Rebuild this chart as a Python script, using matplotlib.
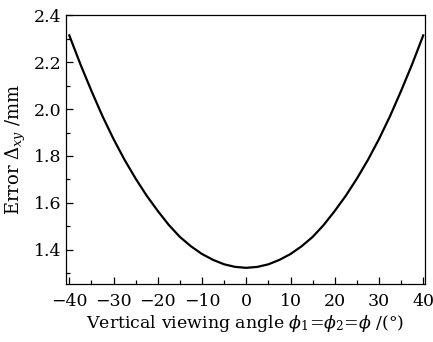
import matplotlib
matplotlib.use('Agg')
import matplotlib.pyplot as plt
from matplotlib.ticker import MultipleLocator

# error vs. vertical viewing angle
angle = [-40, -37.5, -35, -32.5, -30, -27.5, -25, -22.5, -20, -17.5, -15, -12.5, -10, -7.5, -5, -2.5,
         0, 2.5, 5, 7.5, 10, 12.5, 15, 17.5, 20, 22.5, 25, 27.5, 30, 32.5, 35, 37.5, 40]
error = [2.315, 2.192, 2.078, 1.970, 1.872, 1.783, 1.703, 1.630, 1.565, 1.505, 1.454, 1.414, 1.381, 1.356, 1.337, 1.326,
         1.322, 1.326, 1.337, 1.356, 1.381, 1.414, 1.454, 1.505, 1.565, 1.630, 1.703, 1.783, 1.872, 1.970, 2.078, 2.192, 2.315]

xticks = [-40, -30, -20, -10, 0, 10, 20, 30, 40]
yticks = [1.4, 1.6, 1.8, 2.0, 2.2, 2.4]

plt.rcParams['font.family'] = 'DejaVu Serif'
plt.rcParams['mathtext.fontset'] = 'dejavuserif'

fig = plt.figure(figsize=(4.33, 3.42), dpi=100)
ax = fig.add_axes([0.1524, 0.171, 0.8291, 0.7837])
ax.plot(angle, error, color='black', lw=1.6)

ax.set_xlim(-40.75, 40.4)
ax.set_ylim(1.255, 2.4)
ax.set_xticks(xticks)
ax.set_yticks(yticks)
ax.set_xticklabels(['\u2212%d' % -t if t < 0 else '%d' % t for t in xticks])
ax.set_yticklabels(['%.1f' % t for t in yticks])
ax.xaxis.set_minor_locator(MultipleLocator(5))
ax.yaxis.set_minor_locator(MultipleLocator(0.1))
ax.tick_params(which='both', direction='in', top=False, right=False, labelsize=12.5, width=0.9)
ax.tick_params(which='major', length=5)
ax.tick_params(which='minor', length=3)
ax.tick_params(axis='x', pad=7)
for s in ax.spines.values():
    s.set_linewidth(0.9)

ax.set_xlabel(r'Vertical viewing angle $\phi_1$=$\phi_2$=$\phi$ /(°)', fontsize=12.5, labelpad=2)
ax.set_ylabel(r'Error $\Delta_{xy}$ /mm', fontsize=13, labelpad=4)

fig.savefig('out.png', dpi=100)
